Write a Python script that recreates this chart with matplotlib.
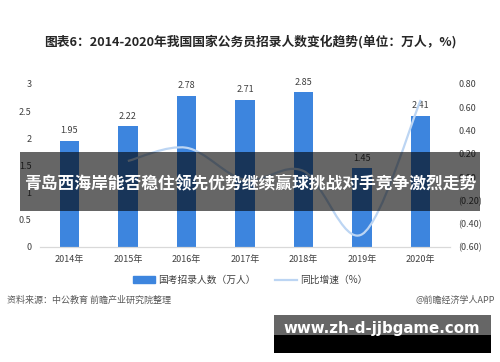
import numpy as np
import matplotlib
matplotlib.use('Agg')
import matplotlib.pyplot as plt
from matplotlib.path import Path
from matplotlib.patches import PathPatch, Rectangle
from matplotlib.lines import Line2D
from matplotlib.ticker import FuncFormatter

plt.rcParams['font.family'] = ['Noto Sans CJK SC', 'DejaVu Sans']

# data
years = ['2014年', '2015年', '2016年', '2017年', '2018年', '2019年', '2020年']
hires = [1.95, 2.22, 2.78, 2.71, 2.85, 1.45, 2.41]
growth = [None, 0.138, 0.252, -0.025, 0.052, -0.491, 0.662]

bar_color = '#3d85de'
line_color = '#bcd5f3'
text_color = '#404040'

fig = plt.figure(figsize=(5, 3.62), dpi=100)
ax = fig.add_axes([0.08, 0.318, 0.82, 0.45])
ax2 = ax.twinx()

x = np.arange(len(years))
ax.bar(x, hires, width=0.33, color=bar_color, zorder=2)
for xi, v in zip(x, hires):
    ax.annotate(f'{v:.2f}', (xi, v), xytext=(0, 4), textcoords='offset points',
                ha='center', va='bottom', fontsize=6.5, color=text_color)

ax.set_xlim(-0.5, len(years) - 0.5)
ax.set_ylim(0, 3)
ax.set_yticks([0, 0.5, 1, 1.5, 2, 2.5, 3])
ax.yaxis.set_major_formatter(FuncFormatter(lambda v, p: f'{v:g}'))
ax.set_xticks(x)
ax.set_xticklabels(years)

# smoothed growth line (bezier through the points)
gx = [xi for xi, g in zip(x, growth) if g is not None]
gy = [g for g in growth if g is not None]
pts = np.column_stack([gx, gy]).astype(float)
verts = [tuple(pts[0])]
codes = [Path.MOVETO]
n = len(pts)
for i in range(n - 1):
    p0 = pts[max(i - 1, 0)]
    p1 = pts[i]
    p2 = pts[i + 1]
    p3 = pts[min(i + 2, n - 1)]
    c1 = p1 + (p2 - p0) / 6
    c2 = p2 - (p3 - p1) / 6
    verts += [tuple(c1), tuple(c2), tuple(p2)]
    codes += [Path.CURVE4] * 3
ax2.add_patch(PathPatch(Path(verts, codes), facecolor='none',
                        edgecolor=line_color, lw=1.6, zorder=3))
ax2.set_ylim(-0.6, 0.8)
ax2.set_yticks(np.arange(-0.6, 0.81, 0.2))
ax2.yaxis.set_major_formatter(FuncFormatter(
    lambda v, p: f'({abs(v):.2f})' if v < -1e-9 else f'{abs(v):.2f}'))

for a in (ax, ax2):
    for s in ('top', 'left', 'right'):
        a.spines[s].set_visible(False)
    a.spines['bottom'].set_color('#d9d9d9')
    a.tick_params(length=0, labelsize=6.5, colors=text_color)
ax.tick_params(axis='x', pad=6)
ax.tick_params(axis='y', pad=6)
ax2.tick_params(axis='y', pad=6)

# legend
handles = [Rectangle((0, 0), 1, 1, color=bar_color),
           Line2D([0], [0], color=line_color, lw=1.6)]
fig.legend(handles, ['国考招录人数（万人）', '同比增速（%）'], loc='center',
           bbox_to_anchor=(0.5, 0.226), ncol=2, frameon=False, fontsize=7,
           labelcolor=text_color, handlelength=2.3, handleheight=0.7,
           columnspacing=2.0, handletextpad=0.3)

# title
fig.text(0.5, 0.884, '图表6：2014-2020年我国国家公务员招录人数变化趋势(单位：万人，%)',
         ha='center', va='center', fontsize=9.2, fontweight='bold', color='#262626')

# footer
fig.text(0.014, 0.171, '资料来源：中公教育 前瞻产业研究院整理', ha='left', va='center',
         fontsize=6.5, color='#595959')

# overlay band with headline
fig.patches.append(Rectangle((0.04, 1 - 211 / 362), 0.92, 59 / 362, transform=fig.transFigure,
                             facecolor='black', alpha=0.6, zorder=5))
fig.text(0.5, 1 - 183 / 362, '青岛西海岸能否稳住领先优势继续赢球挑战对手竞争激烈走势',
         ha='center', va='center', fontsize=12.1, fontweight='bold', color='white', zorder=6)

# bottom banner
fig.patches.append(Rectangle((274 / 500, 1 - 335 / 362), 217 / 500, 20 / 362,
                             transform=fig.transFigure, facecolor='#666666', zorder=5))
fig.patches.append(Rectangle((274 / 500, 1 - 353 / 362), 217 / 500, 18 / 362,
                             transform=fig.transFigure, facecolor='black', zorder=5))
fig.text(0.99, 0.171, '@前瞻经济学人APP', ha='right', va='center',
         fontsize=6.5, color='#595959', zorder=6)
fig.text(382 / 500, 1 - 329 / 362, 'www.zh-d-jjbgame.com', ha='center', va='center',
         fontsize=10.8, fontweight='bold', color='white', family='DejaVu Sans', zorder=6)

fig.savefig('out.png', dpi=100)
